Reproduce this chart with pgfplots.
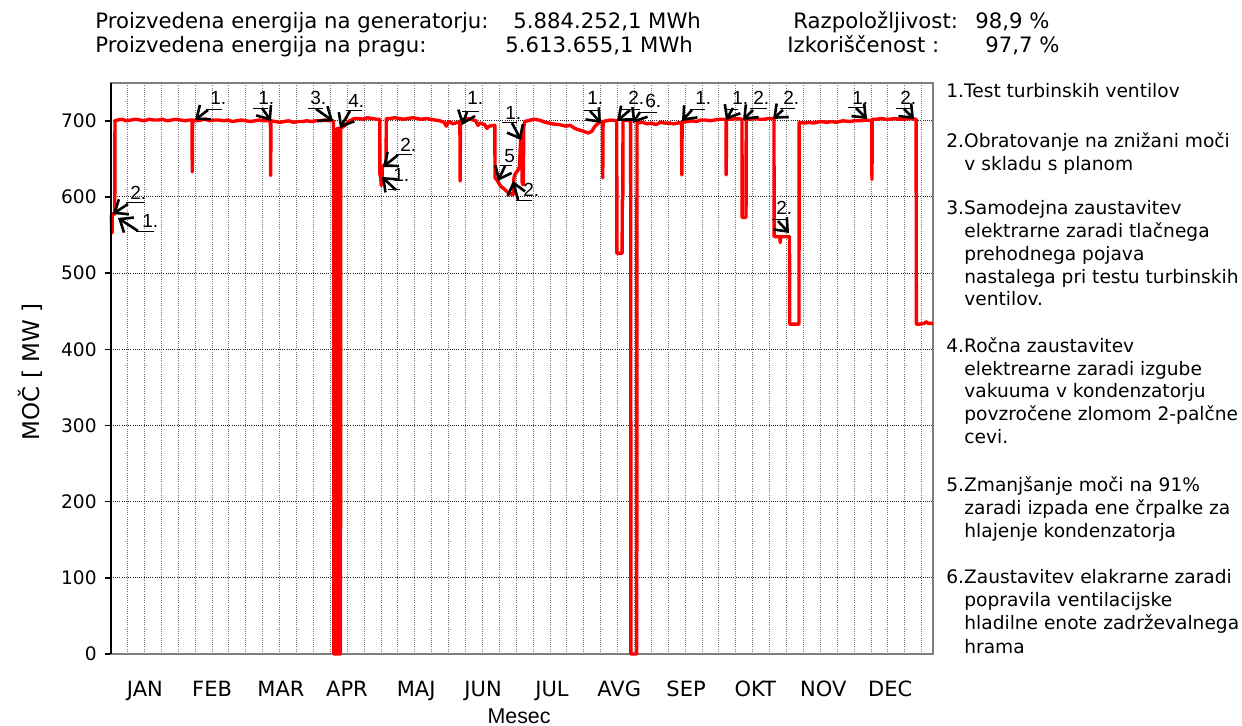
\documentclass[border=0pt]{standalone}
\usepackage{pgfplots}
\pgfplotsset{compat=1.18}
\usetikzlibrary{arrows.meta}
\usepackage{fontspec}
\setmainfont{DejaVu Sans}
\newfontfamily\arialf{Liberation Sans}
\begin{document}
\begin{tikzpicture}
\useasboundingbox (-55.35pt,-36pt) rectangle (565.65pt,327pt);
\begin{axis}[
  scale only axis, width=411.15pt, height=285.65pt,
  xmin=0, xmax=365, ymin=0, ymax=750,
  axis line style={draw=black!50, line width=1pt},
  clip=false,
  /pgf/number format/assume math mode=true,
  ytick={0,100,...,700},
  ytick pos=left,
  tick align=outside,
  major tick length=3pt,
  ytick style={black, line width=0.8pt},
  xtick={15.2,45.0,75.6,104.9,135.6,165.3,195.9,225.7,255.4,286.1,316.3,346.0},
  xticklabels={JAN,FEB,MAR,APR,MAJ,JUN,JUL,AVG,SEP,OKT,NOV,DEC},
  xtick style={draw=none},
  minor xtick={7.5,15,...,360},
  minor tick length=0pt,
  xminorgrids, ymajorgrids,
  major grid style={black!85, dash pattern=on 0.5pt off 0.6pt, line width=0.5pt},
  minor grid style={black!55, dash pattern=on 0.5pt off 0.6pt, line width=0.5pt},
  xticklabel style={font=\fontsize{10.5}{12}\selectfont, yshift=-7pt},
  yticklabel style={font=\fontsize{9.3}{11}\selectfont, xshift=-0.5pt},
  xlabel={Mesec}, ylabel={MOČ [ MW ]},
  xlabel style={font=\arialf\fontsize{10.7}{12}\selectfont, at={(axis description cs:0.4966,-0.1085)}, anchor=center},
  ylabel style={font=\fontsize{11.5}{13}\selectfont, at={(axis description cs:-0.0981,0.4936)}, anchor=center},
]
\addplot[red, line width=1.7pt, line join=round] coordinates {
(0,577) (0.3,576) (0.4,553) (0.6,553) (0.7,578) (1.5,577) (1.8,578) (1.9,700) (3,701) (5,702) (7,700) (9,701) (11,702) (13,701) (15,700) (17,702) (19,701) (21,701) (23,702) (25,700) (27,701) (29,702) (31,701) (33,700) (35,701) (36.1,701) (36.2,633) (36.35,701) (38,700) (40,701) (42,702) (44,700) (46,701) (48,701) (50,700) (52,701) (54,699) (56,700) (58,701) (60,700) (62,699) (64,700) (66,701) (68,700) (70.9,700) (71.0,628) (71.15,700) (73,699) (75,698) (77,699) (79,700) (81,698) (83,699) (85,699) (87,700) (89,699) (91,700) (93,700) (95,701) (97,700) (98.9,700) (99.05,0) (100.3,0) (100.4,690) (100.6,690) (100.7,0) (100.9,0) (101.0,690) (101.2,690) (101.3,0) (101.5,0) (101.6,690) (101.8,690) (101.9,0) (102.0,0) (102.1,690) (103,692) (104,694) (105,697) (106,700) (107,701) (108,703) (110,703) (112,702) (114,704) (116,703) (118,702) (119.4,702) (119.5,630) (119.8,627) (120.1,615) (120.4,622) (120.6,640) (121.5,642) (122.2,644) (122.35,703) (124,703) (126,704) (128,703) (130,702) (132,703) (134,704) (136,703) (138,702) (140,703) (142,702) (144,701) (146,700) (148,698) (149,693) (150,699) (152,696) (153,697) (154,698) (155.0,698) (155.1,621) (155.25,700) (156,701) (158,703) (160,702) (162,700) (163,694) (164,697) (166,695) (167,690) (168,693) (170.5,694) (170.6,625) (171.5,622) (172.5,617) (173.5,613) (174.5,611) (175.5,608) (176.5,606) (177.5,604) (178.6,603) (179.0,625) (179.5,630) (180.9,636) (181.5,640) (181.7,660) (182.0,675) (182.4,680) (182.6,620) (183.0,616) (183.2,616) (183.3,690) (183.7,699) (185,700) (188,702) (190,701) (193,698) (196,696) (199,695) (202,693) (204,694) (206,690) (208,688) (210,686) (212,684) (213.5,686) (215,693) (216.5,697) (218.3,699) (218.4,625) (218.55,699) (220,700) (222,701) (224.6,700) (224.7,526) (227.0,526) (227.1,596) (227.3,596) (227.4,700) (228,701) (230.8,700) (230.9,0) (233.5,0) (233.6,697) (236,698) (238,696) (240,697) (242,695) (244,698) (246,697) (248,697) (250,696) (253.4,698) (253.5,629) (253.65,698) (256,699) (258,700) (260,699) (262,701) (264,701) (266,700) (268,701) (270,702) (273.1,702) (273.2,629) (273.35,702) (276,702) (278,703) (280.2,702) (280.3,573) (282.0,573) (282.1,702) (284,702) (286,703) (288,702) (290,702) (292,703) (294.4,703) (294.5,548) (297,548) (297.2,540) (297.4,548) (301.3,548) (301.4,433) (305.5,433) (305.6,698) (308,697) (310,698) (312,697) (315,699) (318,698) (320,699) (322,698) (325,700) (328,699) (330,700) (333,700) (335,701) (337.8,700) (337.9,623) (338.05,702) (340,702) (342,703) (344,702) (346,702) (348,703) (350,702) (352,702) (354,703) (357.5,702) (357.6,433) (359,433) (361,434) (362,436) (363,434) (365,434)
};
\end{axis}
\draw[black, line width=1pt] (0,0) -- (0,285.65pt);
\begin{scope}[x=0.5pt,y=-0.5pt,shift={(-55.35pt,327pt)}]
\tikzset{ar/.style={line width=1.3pt, -{Straight Barb[length=5.5pt,width=9pt]}},
  ul/.style={line width=0.5pt},
  lb/.style={anchor=base west, inner sep=0pt, font=\arialf\fontsize{9.5}{11}\selectfont}}
% annotations
\node[lb] at (130,200) {2.}; \draw[ul] (126,203)--(145,203); \draw[ar] (128,204)--(113,214);
\node[lb] at (142,228) {1.}; \draw[ul] (136,232)--(154,232); \draw[ar] (138,231)--(118,218);
\node[lb] at (210,105) {1.}; \draw[ul] (206,110)--(222,110); \draw[ar] (208,110)--(195,120);
\node[lb] at (258,105) {1.}; \draw[ul] (253,109)--(268,109); \draw[ar] (262,108)--(271,121);
\node[lb] at (310,105) {3.}; \draw[ul] (308,109)--(323,109); \draw[ar] (316,109)--(333,121);
\node[lb] at (348,108) {4.}; \draw[ul] (346,111)--(362,111); \draw[ar] (350,111)--(340,128);
\node[lb] at (400,152) {2.}; \draw[ul] (396,155)--(412,155); \draw[ar] (398,155)--(383,167);
\node[lb] at (393,182) {1.}; \draw[ul] (388,190)--(400,190); \draw[ar] (396,190)--(382,177);
\node[lb] at (467,105) {1.}; \draw[ul] (462,112)--(479,112); \draw[ar] (467,112)--(462,125);
\node[lb] at (504,163) {5}; \draw[ul] (500,166)--(512,166); \draw[ar] (505,166)--(498,181);
\node[lb] at (523,197) {2.}; \draw[ul] (516,201)--(532,201); \draw[ar] (518,200)--(513,181);
\node[lb] at (505,120) {1.}; \draw[ul] (502,123)--(517,123); \draw[ar] (512,123)--(521,140);
\node[lb] at (587,105) {1.}; \draw[ul] (584,111)--(598,111); \draw[ar] (590,111)--(601,123);
\node[lb] at (628,105) {2.}; \draw[ul] (622,110)--(640,110); \draw[ar] (630,110)--(617,121);
\node[lb] at (645,108) {6.}; \draw[ul] (638,113)--(657,113); \draw[ar] (640,112)--(633,123);
\node[lb] at (695,105) {1.}; \draw[ul] (690,110)--(705,110); \draw[ar] (692,110)--(682,121);
\node[lb] at (732,105) {1.}; \draw[ul] (725,110)--(738,110); \draw[ar] (733,108)--(726,120);
\node[lb] at (753,105) {2.}; \draw[ul] (750,109)--(767,109); \draw[ar] (753,110)--(743,120);
\node[lb] at (783,105) {2.}; \draw[ul] (780,109)--(795,109); \draw[ar] (783,110)--(773,119);
\node[lb] at (776,215) {2.}; \draw[ul] (772,220)--(786,220); \draw[ar] (778,221)--(789,233);
\node[lb] at (852,105) {1.}; \draw[ul] (848,108)--(863,108); \draw[ar] (856,108)--(867,119);
\node[lb] at (900,105) {2.}; \draw[ul] (896,109)--(910,109); \draw[ar] (904,109)--(914,119);
% header
\tikzset{hd/.style={anchor=base west, inner sep=0pt, font=\fontsize{10.6}{12}\selectfont}}
\node[hd] at (95,29) {Proizvedena energija na generatorju:};
\node[hd] at (513,29) {5.884.252,1 MWh};
\node[hd] at (793,29) {Razpoložljivost:};
\node[hd] at (975,29) {98,9 \%};
\node[hd] at (95,53) {Proizvedena energija na pragu:};
\node[hd] at (505,53) {5.613.655,1 MWh};
\node[hd] at (787,53) {Izkoriščenost :};
\node[hd] at (985,53) {97,7 \%};
% notes
\tikzset{nt/.style={anchor=base west, inner sep=0pt, font=\fontsize{9.3}{11}\selectfont}}
\node[nt] at (946,98) {1.Test turbinskih ventilov};
\node[nt] at (946,148) {2.Obratovanje na znižani moči};
\node[nt] at (964,171) {v skladu s planom};
\node[nt] at (946,215) {3.Samodejna zaustavitev};
\node[nt] at (964,238) {elektrarne zaradi tlačnega};
\node[nt] at (964,261) {prehodnega pojava};
\node[nt] at (964,284) {nastalega pri testu turbinskih};
\node[nt] at (964,306) {ventilov.};
\node[nt] at (946,353) {4.Ročna zaustavitev};
\node[nt] at (964,376) {elektrearne zaradi izgube};
\node[nt] at (964,398) {vakuuma v kondenzatorju};
\node[nt] at (964,421) {povzročene zlomom 2-palčne};
\node[nt] at (964,444) {cevi.};
\node[nt] at (946,492) {5.Zmanjšanje moči na 91\%};
\node[nt] at (964,515) {zaradi izpada ene črpalke za};
\node[nt] at (964,538) {hlajenje kondenzatorja};
\node[nt] at (946,584) {6.Zaustavitev elakrarne zaradi};
\node[nt] at (964,607) {popravila ventilacijske};
\node[nt] at (964,630) {hladilne enote zadrževalnega};
\node[nt] at (964,654) {hrama};
\end{scope}
\end{tikzpicture}
\end{document}
